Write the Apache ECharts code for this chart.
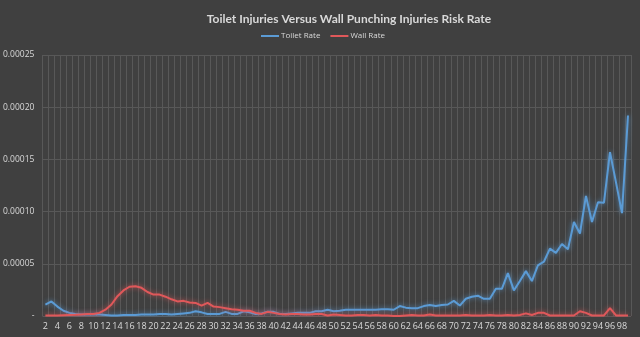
<!DOCTYPE html>
<html>
<head>
<meta charset="utf-8">
<script src="https://cdn.jsdelivr.net/npm/echarts@6/dist/echarts.min.js"></script>
<style>
html,body{margin:0;padding:0;background:#404040;}
#chart{width:640px;height:337px;}
</style>
</head>
<body>
<div id="chart"></div>
<script>
var title = 'Toilet Injuries Versus Wall Punching Injuries Risk Rate';
var seriesNames = ['Toilet Rate', 'Wall Rate'];
var ages = [];
for (var a = 2; a <= 99; a++) ages.push(String(a));

var toiletRate = [
 1.1e-5, 1.4e-5, 0.9e-5, 0.5e-5, 0.3e-5, 0.2e-5, 0.15e-5, 0.15e-5, 0.15e-5, 0.15e-5,
 0.1e-5, 0.05e-5, 0.05e-5, 0.1e-5, 0.1e-5, 0.1e-5, 0.15e-5, 0.15e-5, 0.15e-5, 0.2e-5,
 0.2e-5, 0.15e-5, 0.2e-5, 0.25e-5, 0.3e-5, 0.45e-5, 0.35e-5, 0.2e-5, 0.2e-5, 0.2e-5,
 0.4e-5, 0.2e-5, 0.2e-5, 0.45e-5, 0.35e-5, 0.2e-5, 0.25e-5, 0.4e-5, 0.4e-5, 0.2e-5,
 0.2e-5, 0.25e-5, 0.3e-5, 0.3e-5, 0.3e-5, 0.45e-5, 0.45e-5, 0.6e-5, 0.45e-5, 0.5e-5,
 0.6e-5, 0.6e-5, 0.6e-5, 0.6e-5, 0.6e-5, 0.6e-5, 0.65e-5, 0.65e-5, 0.6e-5, 0.95e-5,
 0.8e-5, 0.75e-5, 0.75e-5, 0.95e-5, 1.05e-5, 0.95e-5, 1.05e-5, 1.1e-5, 1.45e-5, 1.0e-5,
 1.65e-5, 1.85e-5, 1.95e-5, 1.65e-5, 1.65e-5, 2.6e-5, 2.6e-5, 4.1e-5, 2.45e-5, 3.35e-5,
 4.3e-5, 3.35e-5, 4.85e-5, 5.2e-5, 6.45e-5, 6.05e-5, 6.9e-5, 6.4e-5, 9.0e-5, 7.9e-5,
 11.5e-5, 9.0e-5, 10.9e-5, 10.85e-5, 15.7e-5, 12.8e-5, 9.85e-5, 19.2e-5
];

var wallRate = [
 0.05e-5, 0.05e-5, 0.05e-5, 0.08e-5, 0.1e-5, 0.12e-5, 0.15e-5, 0.18e-5, 0.2e-5, 0.3e-5,
 0.6e-5, 1.1e-5, 1.9e-5, 2.45e-5, 2.8e-5, 2.85e-5, 2.7e-5, 2.3e-5, 2.05e-5, 2.05e-5,
 1.85e-5, 1.6e-5, 1.4e-5, 1.45e-5, 1.3e-5, 1.25e-5, 1.0e-5, 1.25e-5, 0.9e-5, 0.85e-5,
 0.75e-5, 0.65e-5, 0.6e-5, 0.5e-5, 0.5e-5, 0.3e-5, 0.2e-5, 0.4e-5, 0.3e-5, 0.2e-5,
 0.15e-5, 0.2e-5, 0.2e-5, 0.15e-5, 0.15e-5, 0.2e-5, 0.2e-5, 0.05e-5, 0.15e-5, 0.1e-5,
 0.05e-5, 0.05e-5, 0.1e-5, 0.1e-5, 0.05e-5, 0.1e-5, 0.05e-5, 0.05e-5, 0.0, 0.0,
 0.05e-5, 0.1e-5, 0.05e-5, 0.05e-5, 0.15e-5, 0.05e-5, 0.05e-5, 0.05e-5, 0.05e-5, 0.05e-5,
 0.1e-5, 0.05e-5, 0.05e-5, 0.05e-5, 0.1e-5, 0.05e-5, 0.05e-5, 0.1e-5, 0.05e-5, 0.1e-5,
 0.25e-5, 0.1e-5, 0.3e-5, 0.3e-5, 0.05e-5, 0.05e-5, 0.05e-5, 0.05e-5, 0.05e-5, 0.45e-5,
 0.3e-5, 0.05e-5, 0.05e-5, 0.05e-5, 0.75e-5, 0.05e-5, 0.05e-5, 0.05e-5
];

var yMin = 0, yMax = 0.00025, yStep = 0.00005;
var font = '"Open Sans", "Liberation Sans", sans-serif';
var titleFont = 'Lato, "Open Sans", sans-serif';
var textColor = '#d9d9d9';
var gridColor = '#585858';
var blue = '#5b9bd5';
var red = '#e0585a';

var chart = echarts.init(document.getElementById('chart'));
chart.setOption({
  backgroundColor: '#404040',
  animation: false,
  title: {
    text: title,
    left: 344, textAlign: 'center', top: 8,
    textStyle: { color: textColor, fontSize: 12, fontWeight: 'bold', fontFamily: titleFont }
  },
  legend: {
    data: seriesNames,
    top: 27, left: 256,
    itemWidth: 18, itemHeight: 2, itemGap: 10,
    icon: 'rect',
    textStyle: { color: textColor, fontSize: 8, fontFamily: font, padding: [0, 0, 0, -3] }
  },
  grid: { left: 42, right: 9, top: 55, bottom: 21 },
  xAxis: {
    type: 'category',
    data: ages,
    boundaryGap: true,
    axisLine: { show: false },
    axisTick: { show: false },
    axisLabel: { interval: 1, color: textColor, fontSize: 9, fontFamily: font, margin: 6 },
    splitLine: { show: true, interval: 0, lineStyle: { color: gridColor, width: 1 } }
  },
  yAxis: {
    type: 'value',
    min: yMin, max: yMax, interval: yStep,
    axisLine: { show: false },
    axisTick: { show: false },
    axisLabel: {
      color: textColor, fontSize: 8.5, fontFamily: font, margin: 8,
      formatter: function (v) { return v === 0 ? '-' : v.toFixed(5); }
    },
    splitLine: { lineStyle: { color: gridColor, width: 1 } }
  },
  series: [
    {
      name: seriesNames[0], type: 'line', data: toiletRate,
      symbol: 'none', color: blue,
      lineStyle: { width: 2, color: blue, shadowBlur: 5, shadowColor: 'rgba(91,155,213,0.8)' }
    },
    {
      name: seriesNames[1], type: 'line', data: wallRate,
      symbol: 'none', color: red,
      lineStyle: { width: 2, color: red, shadowBlur: 5, shadowColor: 'rgba(224,88,90,0.8)' }
    }
  ]
});
</script>
</body>
</html>
